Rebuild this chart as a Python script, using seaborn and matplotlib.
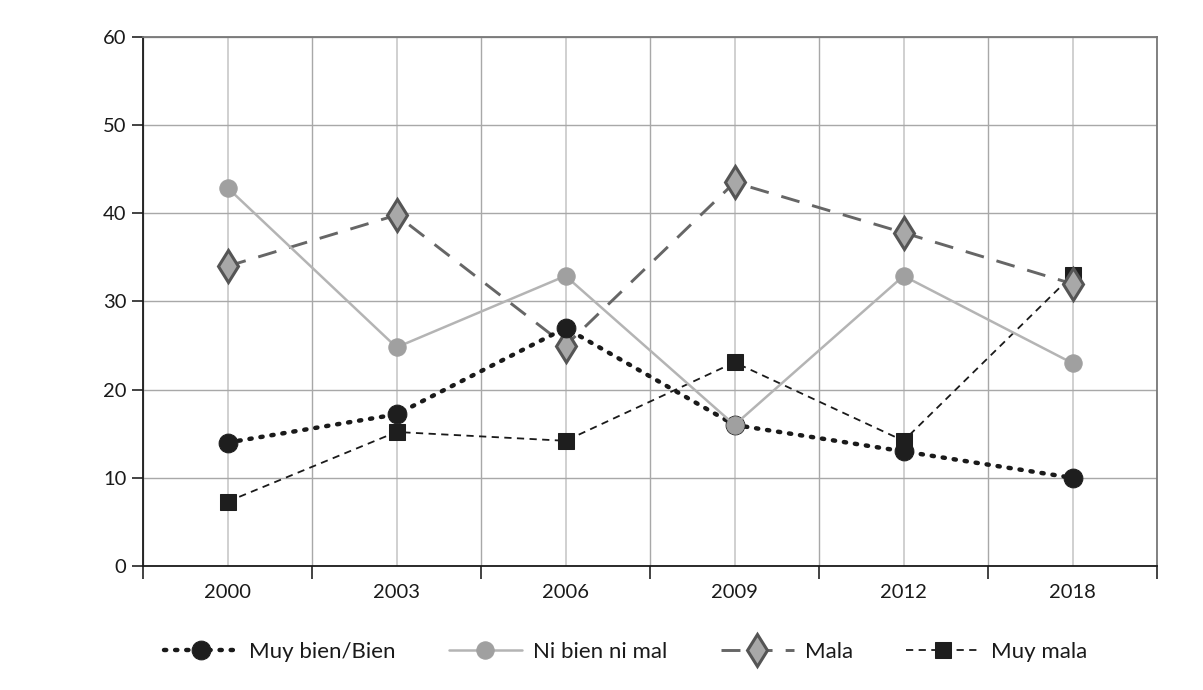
import pandas as pd
import seaborn as sns
import matplotlib.pyplot as plt
from matplotlib.ticker import FixedLocator, NullFormatter

years = ["2000", "2003", "2006", "2009", "2012", "2018"]
muy_bien = [14, 17.2, 27, 16, 13, 10]
ni_bien = [42.9, 24.8, 32.9, 16, 32.9, 23]
mala = [34, 39.8, 25, 43.5, 37.8, 32]
muy_mala = [7.3, 15.2, 14.2, 23.1, 14.2, 33]

series = {
    "Muy bien/Bien": muy_bien,
    "Ni bien ni mal": ni_bien,
    "Mala": mala,
    "Muy mala": muy_mala,
}

rows = []
for name, vals in series.items():
    for yr, v in zip(years, vals):
        rows.append((name, yr, v))
df = pd.DataFrame(rows, columns=["serie", "year", "value"])

sns.set_style("white")
plt.rcParams["font.family"] = ["Lato", "DejaVu Sans"]

fig = plt.figure(figsize=(12.03, 6.9), dpi=100)
ax = fig.add_axes([0.1189, 0.1797, 0.8429, 0.7667])

styles = {
    "Muy bien/Bien": dict(color="#1a1a1a", linestyle=(0, (0.5, 2.0)), linewidth=3.2,
                          dash_capstyle="round", marker="o", markersize=13.5,
                          markerfacecolor="#1e1e1e", markeredgecolor="#1e1e1e", zorder=4),
    "Ni bien ni mal": dict(color="#b4b4b4", linestyle="-", linewidth=1.8,
                           marker="o", markersize=12.5,
                           markerfacecolor="#a0a0a0", markeredgecolor="#a0a0a0", zorder=5),
    "Mala": dict(color="#666666", linestyle=(0, (6.5, 4.5)), linewidth=2.1,
                 marker="d", markersize=16.5, markeredgewidth=2.2,
                 markerfacecolor="#a8a8a8", markeredgecolor="#555555", zorder=3),
    "Muy mala": dict(color="#1a1a1a", linestyle=(0, (4, 3)), linewidth=1.3,
                     marker="s", markersize=11,
                     markerfacecolor="#1e1e1e", markeredgecolor="#1e1e1e", zorder=2.5),
}

for name in series:
    sub = df[df["serie"] == name]
    sns.lineplot(data=sub, x="year", y="value", ax=ax, label=name, **styles[name])

ax.set_xlim(-0.5, len(years) - 0.5)
ax.set_ylim(0, 60)
ax.set_yticks(range(0, 61, 10))

# ticks at category boundaries, labels at centers
ax.xaxis.set_major_locator(FixedLocator([i - 0.5 for i in range(len(years) + 1)]))
ax.xaxis.set_major_formatter(NullFormatter())
ax.set_xticks(range(len(years)), labels=years, minor=True)
ax.tick_params(axis="x", which="major", bottom=True, length=9, width=1.2,
               color="#222222", direction="out")
ax.tick_params(axis="x", which="minor", bottom=True, length=0, pad=13,
               labelsize=14.5, labelcolor="#1a1a1a")
ax.tick_params(axis="y", left=True, length=8, width=1.2, color="#222222",
               labelsize=14.5, labelcolor="#1a1a1a", pad=4)

ax.grid(True, which="major", axis="both", color="#a8a8a8", linewidth=1.0)
ax.grid(True, which="minor", axis="x", color="#c8c8c8", linewidth=1.2)
ax.set_axisbelow(True)

for side in ["left", "bottom"]:
    ax.spines[side].set_color("#1a1a1a")
    ax.spines[side].set_linewidth(1.3)
for side in ["top", "right"]:
    ax.spines[side].set_color("#777777")
    ax.spines[side].set_linewidth(1.3)

ax.set_xlabel("")
ax.set_ylabel("")

ax.legend(loc="upper center", bbox_to_anchor=(0.476, -0.105), ncol=4, frameon=False,
          fontsize=16, handlelength=3.3, handletextpad=0.5, columnspacing=2.4,
          labelcolor="#1a1a1a")

fig.savefig("out.png", dpi=100)
